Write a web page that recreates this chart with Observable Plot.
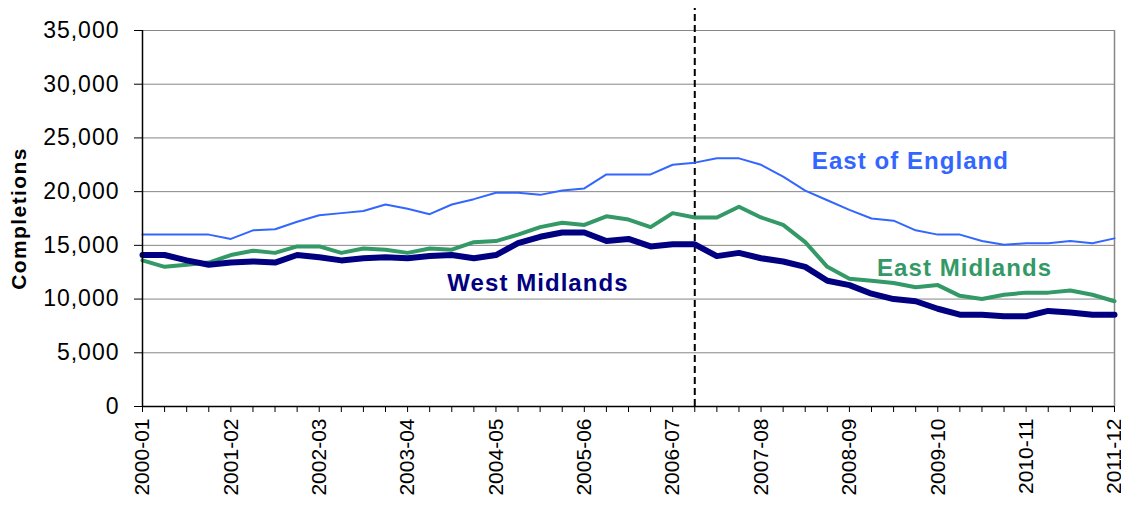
<!DOCTYPE html>
<html>
<head>
<meta charset="utf-8">
<script src="https://cdn.jsdelivr.net/npm/d3@7"></script>
<script src="https://cdn.jsdelivr.net/npm/@observablehq/plot@0.6"></script>
<style>
  html, body { margin: 0; padding: 0; background: #fff; }
  #chart svg { display: block; }
</style>
</head>
<body>
<div id="chart"></div>
<script>
const periods = ["2000-01","2001-02","2002-03","2003-04","2004-05","2005-06","2006-07","2007-08","2008-09","2009-10","2010-11","2011-12"];
const quartersPerPeriod = 4;
const eastOfEngland = [16000,16000,16000,16000,15600,16400,16500,17200,17800,18000,
  18200,18800,18400,17900,18800,19300,19900,19900,19700,20100,
  20300,21600,21600,21600,22500,22700,23100,23100,22500,21400,
  20100,19200,18300,17500,17300,16400,16000,16000,15400,15050,
  15200,15200,15400,15200,15650];
const eastMidlands = [13600,13000,13200,13400,14100,14500,14300,14900,14900,14300,
  14700,14600,14300,14700,14600,15300,15400,16000,16700,17100,
  16900,17700,17400,16700,18000,17600,17600,18600,17600,16900,
  15300,13000,11900,11700,11500,11100,11300,10300,10000,10400,
  10600,10600,10800,10400,9800];
const westMidlands = [14100,14100,13600,13200,13400,13500,13400,14100,13900,13600,
  13800,13900,13800,14000,14100,13800,14100,15200,15800,16200,
  16200,15400,15600,14900,15100,15100,14000,14300,13800,13500,
  13000,11700,11300,10500,10000,9800,9100,8550,8550,8400,
  8400,8900,8750,8550,8550];
const yTicks = [0,5000,10000,15000,20000,25000,30000,35000];
const seriesNames = ["East of England","East Midlands","West Midlands"];
const seriesColors = ["#3366FF","#339966","#000080"];
const seriesWidths = [2,4,6];
// label anchors in data space (quarter index, value at baseline)
const labelX = [30.3, 33.25, 13.8];
const labelY = [22130, 12130, 10730];
const dashedIndex = 25;
const dashedTop = 37050;

const n = eastOfEngland.length;
const idx = d3.range(n);
const labels = seriesNames.map((name, s) => ({name, x: labelX[s], y: labelY[s], color: seriesColors[s]}));

const font = "'Liberation Sans', Arial, sans-serif";

const plot = Plot.plot({
  width: 1121,
  height: 506,
  marginLeft: 142,
  marginRight: 7,
  marginTop: 30,
  marginBottom: 100,
  style: {fontFamily: font, color: "#000", background: "#fff", overflow: "visible"},
  x: {domain: [0, n - 1]},
  y: {domain: [0, 35000]},
  marks: [
    Plot.gridY(yTicks, {stroke: "#868686", strokeOpacity: 1, strokeWidth: 1}),
    Plot.ruleX([n - 1], {stroke: "#868686", strokeWidth: 1.5}),
    Plot.axisY({ticks: yTicks, tickSize: 8, tickPadding: 15, fontSize: 23, tickFormat: d3.format(","), label: null, stroke: "#000"}),
    Plot.axisX({ticks: idx, tickSize: 6, tickPadding: 6, tickRotate: -90, fontSize: 21,
      tickFormat: i => i % quartersPerPeriod === 0 ? periods[i / quartersPerPeriod] : "", label: null}),
    Plot.ruleX([dashedIndex], {y1: 0, y2: dashedTop, stroke: "#000", strokeWidth: 2, strokeDasharray: "7,4"}),
    Plot.lineY(eastOfEngland, {x: (d, i) => i, y: d => d, stroke: seriesColors[0], strokeWidth: seriesWidths[0]}),
    Plot.lineY(eastMidlands, {x: (d, i) => i, y: d => d, stroke: seriesColors[1], strokeWidth: seriesWidths[1]}),
    Plot.lineY(westMidlands, {x: (d, i) => i, y: d => d, stroke: seriesColors[2], strokeWidth: seriesWidths[2]}),
    Plot.ruleY([0], {stroke: "#000", strokeWidth: 1.5}),
    Plot.ruleX([0], {stroke: "#000", strokeWidth: 1.5}),
    Plot.text(labels, {x: "x", y: "y", text: "name", fill: "color", textAnchor: "start", lineAnchor: "bottom",
      fontSize: 24, fontWeight: "bold", className: "series-label"}),
    Plot.text(["Completions"], {frameAnchor: "left", textAnchor: "middle", dx: -123, rotate: -90, fontSize: 21, fontWeight: "bold", fill: "#000", className: "ytitle"})
  ]
});
d3.select(plot).selectAll(".series-label text").style("letter-spacing", "1.05px");
d3.select(plot).selectAll(".ytitle text").style("letter-spacing", "1.4px");
d3.select(plot).selectAll("g[aria-label='y-axis tick label'] text").style("letter-spacing", "1px");
document.getElementById("chart").appendChild(plot);
</script>
</body>
</html>
